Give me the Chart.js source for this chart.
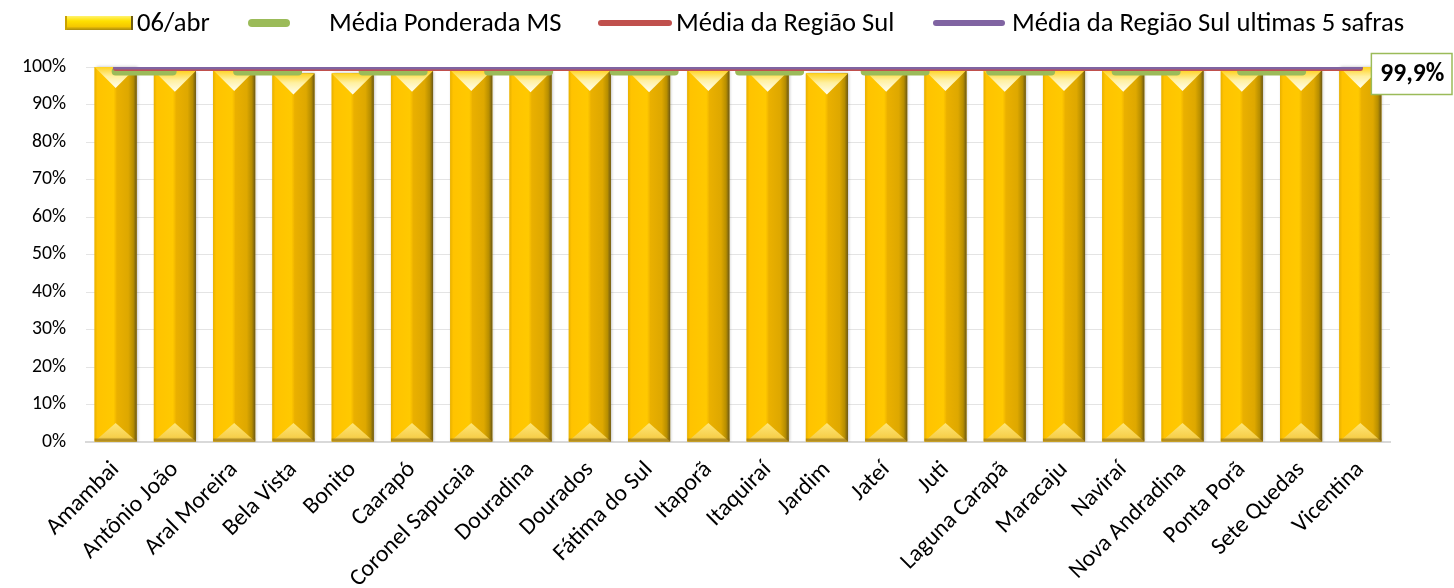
<!DOCTYPE html>
<html>
<head>
<meta charset="utf-8">
<script src="https://cdn.jsdelivr.net/npm/chart.js@4.4.0/dist/chart.umd.min.js"></script>
<style>
html,body{margin:0;padding:0;background:#fff;overflow:hidden}
#wrap{width:1454px;height:588px;position:relative}
</style>
</head>
<body>
<div id="wrap"><canvas id="c" width="1454" height="588"></canvas></div>
<script>
// ---------------- data ----------------
const categories = ['Amambai','Antônio João','Aral Moreira','Bela Vista','Bonito','Caarapó','Coronel Sapucaia','Douradina','Dourados','Fátima do Sul','Itaporã','Itaquiraí','Jardim','Jateí','Juti','Laguna Carapã','Maracaju','Naviraí','Nova Andradina','Ponta Porã','Sete Quedas','Vicentina'];
const colheita06abr     = [100, 99.0, 99.2, 98.3, 98.3, 99.0, 99.2, 98.9, 99.2, 98.9, 99.2, 99.0, 98.3, 99.0, 99.2, 99.0, 99.2, 99.0, 99.2, 99.0, 99.2, 100];
const mediaPonderadaMS  = [98.8, 98.8, 98.8, 98.8, 98.8, 98.8, 98.8, 98.8, 98.8, 98.8, 98.8, 98.8, 98.8, 98.8, 98.8, 98.8, 98.8, 98.8, 98.8, 98.8, 98.8, 98.8];
const mediaRegiaoSul    = [99.6, 99.6, 99.6, 99.6, 99.6, 99.6, 99.6, 99.6, 99.6, 99.6, 99.6, 99.6, 99.6, 99.6, 99.6, 99.6, 99.6, 99.6, 99.6, 99.6, 99.6, 99.6];
const mediaRegiaoSul5   = [100, 100, 100, 100, 100, 100, 100, 100, 100, 100, 100, 100, 100, 100, 100, 100, 100, 100, 100, 100, 100, 100];
const seriesLabels = ['06/abr', 'Média Ponderada MS', 'Média da Região Sul', 'Média da Região Sul ultimas 5 safras'];
const yTickValues = [0, 10, 20, 30, 40, 50, 60, 70, 80, 90, 100];
const endLabelText = '99,9%';

// ---------------- fonts ----------------
function fontAvailable(name){
  const c = document.createElement('canvas').getContext('2d');
  const s = 'mmmmmmmmmmlliWQ@#01áã';
  for (const base of ['monospace','serif']){
    c.font = '72px ' + base; const w0 = c.measureText(s).width;
    c.font = "72px '" + name + "', " + base; const w1 = c.measureText(s).width;
    if (Math.abs(w0 - w1) > 0.5) return true;
  }
  return false;
}
const FAMILY = ['Carlito','Lato','Open Sans','Liberation Sans','DejaVu Sans'].find(fontAvailable) || 'sans-serif';
const mctx = document.createElement('canvas').getContext('2d');
function fitSize(text, target, weight){
  mctx.font = (weight||'normal') + " 100px '" + FAMILY + "'";
  return Math.round(target / mctx.measureText(text).width * 1000) / 10;
}
const legendSize = fitSize(seriesLabels[3], 392);
const xTickSize  = fitSize('Coronel Sapucaia', 166);
const yTickSize  = fitSize('100%', 44);
const endLabelSize = fitSize(endLabelText, 64, 'bold');

// ---------------- colours ----------------
const GREEN = '#9BBB59', RED = '#C0504D', PURPLE = '#8064A2';

// ---------------- custom bar look ----------------
function drawGoldBar(ctx, el){
  const p = el.getProps(['x','y','base','width'], true);
  const x = p.x, y = p.y, base = p.base, w = p.width;
  const x0 = x - w/2, x1 = x + w/2, h = base - y;
  ctx.save();
  ctx.shadowColor = 'rgba(0,0,0,0.28)'; ctx.shadowBlur = 3; ctx.shadowOffsetX = 1;
  const g = ctx.createLinearGradient(x0, 0, x1, 0);
  g.addColorStop(0, '#E8B000');
  g.addColorStop(0.07, '#FFC300');
  g.addColorStop(0.45, '#FFC900');
  g.addColorStop(0.5, '#F4BA00');
  g.addColorStop(0.53, '#EAB000');
  g.addColorStop(0.8, '#DEA800');
  g.addColorStop(0.92, '#B78E00');
  g.addColorStop(1, '#6B5816');
  ctx.fillStyle = g;
  ctx.fillRect(x0, y, w, h);
  ctx.shadowColor = 'transparent';
  // top bevel
  const d = w * 0.5;
  const tg = ctx.createLinearGradient(0, y, 0, y + d);
  tg.addColorStop(0, '#FFD21F');
  tg.addColorStop(0.45, '#FFF0A0');
  tg.addColorStop(1, '#FFFEF0');
  ctx.beginPath(); ctx.moveTo(x0, y); ctx.lineTo(x1, y); ctx.lineTo(x, y + d); ctx.closePath();
  ctx.fillStyle = tg; ctx.fill();
  // bottom bevel
  const bd = w * 0.44;
  const bg = ctx.createLinearGradient(0, base - bd, 0, base);
  bg.addColorStop(0, '#FFE678');
  bg.addColorStop(0.75, '#F7D04C');
  bg.addColorStop(1, '#D9B23A');
  ctx.beginPath(); ctx.moveTo(x0, base); ctx.lineTo(x1, base); ctx.lineTo(x, base - bd); ctx.closePath();
  ctx.fillStyle = bg; ctx.fill();
  ctx.fillStyle = 'rgba(140,105,15,0.55)';
  ctx.fillRect(x0, base - 3, w, 3);
  ctx.restore();
}

const goldBarPlugin = {
  id: 'goldBars',
  afterDatasetDraw(chart, args){
    if (args.index !== 0) return;
    const ctx = chart.ctx;
    ctx.save();
    const a = chart.chartArea;
    ctx.beginPath(); ctx.rect(a.left - 5, a.top - 5, a.right - a.left + 10, a.bottom - a.top + 5); ctx.clip();
    args.meta.data.forEach(el => drawGoldBar(ctx, el));
    ctx.restore();
  }
};

// ---------------- legend + end label ----------------
const legendPlugin = {
  id: 'xlLegend',
  afterDraw(chart){
    const ctx = chart.ctx;
    const ds = chart.data.datasets;
    const cy = 23;
    const items = [
      {kind:'bar', s0:65, s1:133, tx:137},
      {kind:'line', s0:252, s1:286, lw:8, tx:329},
      {kind:'line', s0:601, s1:669, lw:6, tx:676},
      {kind:'line', s0:936, s1:1002, lw:6, tx:1012}
    ];
    ctx.save();
    ctx.font = legendSize + "px '" + FAMILY + "'";
    ctx.textBaseline = 'middle';
    ctx.textAlign = 'left';
    items.forEach((it, i) => {
      const d = ds[i];
      if (it.kind === 'bar'){
        const g = ctx.createLinearGradient(0, cy - 7, 0, cy + 7);
        g.addColorStop(0, '#FFF36E'); g.addColorStop(0.35, '#FFE100');
        g.addColorStop(0.75, '#F5C800'); g.addColorStop(1, '#A88A10');
        ctx.fillStyle = g;
        ctx.fillRect(it.s0, cy - 7, it.s1 - it.s0, 14);
        ctx.fillStyle = '#C9A100'; ctx.fillRect(it.s0, cy - 7, 2, 14);
        ctx.fillStyle = '#6E5C12'; ctx.fillRect(it.s1 - 2, cy - 7, 2, 14);
      } else {
        ctx.strokeStyle = d.borderColor; ctx.lineWidth = it.lw; ctx.lineCap = 'round';
        ctx.beginPath(); ctx.moveTo(it.s0, cy); ctx.lineTo(it.s1, cy); ctx.stroke();
      }
      ctx.fillStyle = '#000';
      ctx.fillText(d.label, it.tx, cy + 1);
    });
    // end data label on "Média Ponderada MS"
    const meta = chart.getDatasetMeta(1);
    const pt = meta.data[meta.data.length - 1];
    const bx0 = pt.x + 11, bx1 = chart.width - 2, by0 = pt.y - 18, by1 = pt.y + 23;
    ctx.fillStyle = '#fff';
    ctx.fillRect(bx0, by0, bx1 - bx0, by1 - by0);
    ctx.strokeStyle = GREEN; ctx.lineWidth = 1.5;
    ctx.strokeRect(bx0, by0, bx1 - bx0, by1 - by0);
    ctx.fillStyle = '#000';
    ctx.font = 'bold ' + endLabelSize + "px '" + FAMILY + "'";
    ctx.textBaseline = 'middle';
    ctx.fillText(endLabelText, bx0 + 9, pt.y + 3);
    ctx.restore();
  }
};

// ---------------- chart ----------------
new Chart(document.getElementById('c'), {
  type: 'bar',
  data: {
    labels: categories,
    datasets: [
      {type:'bar', label: seriesLabels[0], data: colheita06abr, backgroundColor:'#FFC400', borderWidth:0,
       barPercentage:0.71, categoryPercentage:1, order:3},
      {type:'line', label: seriesLabels[1], data: mediaPonderadaMS, borderColor: GREEN, borderWidth:8,
       borderDash:[61, 64.5], borderDashOffset:4, borderCapStyle:'round', pointRadius:0, fill:false, order:2},
      {type:'line', label: seriesLabels[2], data: mediaRegiaoSul, borderColor: RED, borderWidth:5,
       borderCapStyle:'round', pointRadius:0, fill:false, order:1},
      {type:'line', label: seriesLabels[3], data: mediaRegiaoSul5, borderColor: PURPLE, borderWidth:5,
       borderCapStyle:'round', pointRadius:0, fill:false, order:0}
    ]
  },
  options: {
    responsive:false, animation:false, devicePixelRatio:1,
    layout:{padding:{top:67, right:64, left:0, bottom:0}},
    plugins:{legend:{display:false}, tooltip:{enabled:false}},
    scales:{
      x:{
        grid:{display:false},
        border:{display:true, color:'#D9D9D9', width:2},
        ticks:{color:'#000', font:{family:FAMILY, size:xTickSize}, minRotation:45, maxRotation:45, autoSkip:false, padding:6},
        afterFit(s){ s.height = 146; }
      },
      y:{
        min:0, max:100,
        afterBuildTicks(s){ s.ticks = yTickValues.map(v => ({value:v})); },
        grid:{color:'#E4E4E4', lineWidth:1, drawTicks:false},
        border:{display:false},
        ticks:{color:'#000', font:{family:FAMILY, size:yTickSize}, padding:20, callback:v => v + '%'},
        afterFit(s){ s.width = 86; }
      }
    }
  },
  plugins:[goldBarPlugin, legendPlugin]
});
</script>
</body>
</html>
